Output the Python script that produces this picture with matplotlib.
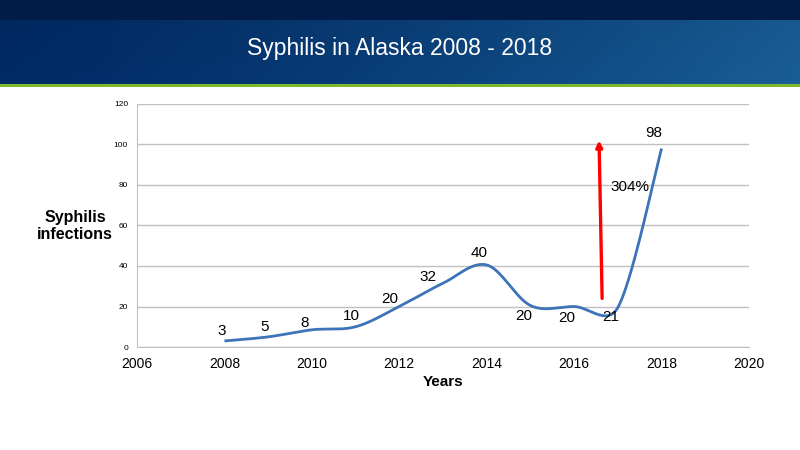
import numpy as np
import matplotlib
matplotlib.use("Agg")
import matplotlib.pyplot as plt

plt.rcParams['font.family'] = ['Liberation Sans', 'DejaVu Sans']

years = [2008, 2009, 2010, 2011, 2012, 2013, 2014, 2015, 2016, 2017, 2018]
values = [3, 5, 8.5, 10, 20, 31.5, 40.5, 20.5, 20, 19.5, 98]
labels = ["3", "5", "8", "10", "20", "32", "40", "20", "20", "21", "98"]
label_offsets = [(-1.9, 7.3), (-2.7, 6.9), (-4.9, 5.1), (-2.7, 7.7), (-6.6, 5.4), (-10.5, 4.7),
                 (-5.3, 8.4), (-4.5, -7.8), (-5.3, -8.1), (-4.8, -7.1), (-5.8, 11.4)]
title = "Syphilis in Alaska 2008 - 2018"
xticks = [2006, 2008, 2010, 2012, 2014, 2016, 2018, 2020]
yticks = [0, 20, 40, 60, 80, 100, 120]
arrow_start = (2016.64, 24)
arrow_end = (2016.57, 102)
pct_text = "304%"
pct_pos = (2017.28, 79.2)


def excel_smooth(xs, ys, sx, sy, n=50):
    # Bezier smoothing similar to spreadsheet "smoothed line", computed in screen units
    P = np.column_stack([np.asarray(xs, float) * sx, np.asarray(ys, float) * sy])
    P = np.vstack([P[0], P, P[-1]])
    t = np.linspace(0, 1, n)[:, None]
    out = []
    for i in range(1, len(P) - 2):
        p0, p1, p2, p3 = P[i - 1], P[i], P[i + 1], P[i + 2]
        d12 = np.linalg.norm(p2 - p1)
        d02 = np.linalg.norm(p2 - p0)
        d13 = np.linalg.norm(p3 - p1)
        f0 = 1 / 6
        f1 = 1 / 6
        if d02 / 6 >= d12 / 2 and d02 > 0:
            f0 = d12 / d02 / 2
        if d13 / 6 >= d12 / 2 and d13 > 0:
            f1 = d12 / d13 / 2
        c1 = p1 + (p2 - p0) * f0
        c2 = p2 - (p3 - p1) * f1
        seg = ((1 - t) ** 3) * p1 + 3 * ((1 - t) ** 2) * t * c1 + 3 * (1 - t) * t ** 2 * c2 + t ** 3 * p2
        out.append(seg)
    out = np.vstack(out)
    return out[:, 0] / sx, out[:, 1] / sy


fig = plt.figure(figsize=(8, 4.5), dpi=100)
fig.patch.set_facecolor("white")

# header background
hax = fig.add_axes([0, 1 - 84 / 450, 1, 84 / 450])
hax.set_axis_off()
w, h = 400, 84
gx = np.linspace(0, 1, w)[None, :]
gy = np.linspace(0, 1, h)[:, None]
c_left = np.array([0.0, 0.17, 0.40])
c_right = np.array([0.10, 0.37, 0.60])
mix = gx[..., None] ** 1.3
img = c_left[None, None, :] * (1 - mix) + c_right[None, None, :] * mix
img = img * (0.92 + 0.08 * gy[..., None])
top_rows = int(h * 20 / 84)
img[:top_rows] = np.array([0.01, 0.11, 0.28])
hax.imshow(np.clip(img, 0, 1), aspect="auto", extent=[0, 1, 0, 1], origin="upper")
hax.set_xlim(0, 1)
hax.set_ylim(0, 1)
fig.patches.append(plt.Rectangle((0, 1 - 87 / 450), 1, 3 / 450, transform=fig.transFigure,
                                 facecolor="#7cb82f", edgecolor="none"))
fig.text(0.5, 1 - 49 / 450, title, color="white", fontsize=16.5, ha="center", va="center")

ax_w_px = 749 - 137
ax_h_px = 347 - 104
ax = fig.add_axes([137 / 800, 1 - 347 / 450, ax_w_px / 800, ax_h_px / 450])
ax.set_xlim(2006, 2020)
ax.set_ylim(0, 120)
ax.set_xticks(xticks)
ax.set_yticks(yticks)
ax.tick_params(axis="x", labelsize=10, length=0, pad=7)
ax.tick_params(axis="y", labelsize=6, length=0, pad=6.5)
ax.grid(axis="y", color="#c0c0c0", linewidth=1)
ax.set_axisbelow(True)
for s in ["top", "right"]:
    ax.spines[s].set_visible(False)
ax.spines["left"].set_color("#c0c0c0")
ax.spines["bottom"].set_color("#c0c0c0")

sx = ax_w_px / 14.0
sy = ax_h_px / 120.0
cx, cy = excel_smooth(years, values, sx, sy)
ax.plot(cx, cy, color="#3d73b9", linewidth=2, solid_capstyle="butt")

for x, v, lab, off in zip(years, values, labels, label_offsets):
    ax.annotate(lab, (x, v), xytext=off, textcoords="offset points", fontsize=11,
                ha="center", va="center")

ax.annotate("", xy=arrow_end, xytext=arrow_start,
            arrowprops=dict(arrowstyle="-|>", color="#ff0000", lw=2.4, mutation_scale=9,
                            shrinkA=0, shrinkB=0))
ax.text(pct_pos[0], pct_pos[1], pct_text, fontsize=11, ha="center", va="center")

ax.set_xlabel("Years", fontsize=11, fontweight="bold", labelpad=3)
fig.text(75 / 800, 1 - 226 / 450, "Syphilis\ninfections", fontsize=11.5, fontweight="bold",
         ha="center", va="center", linespacing=1.2)

fig.savefig("out.png", dpi=100)
